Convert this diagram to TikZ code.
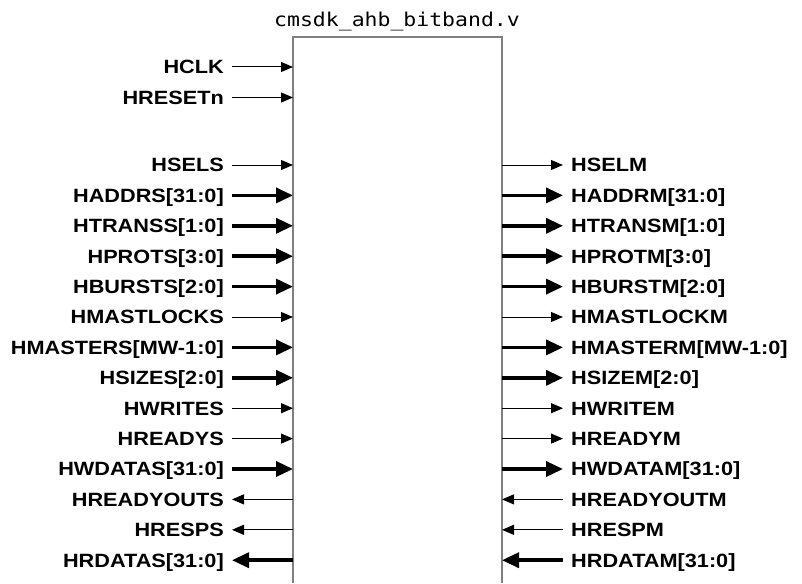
\documentclass[tikz,border=0pt]{standalone}
\usepackage{fontspec}
\setmainfont{Liberation Sans}
\newfontfamily\sigfont[FakeStretch=1.13]{Liberation Sans}
\newfontfamily\titlefont[FakeStretch=1.13]{DejaVu Sans Mono}
\usetikzlibrary{arrows.meta}

\tikzset{
  lbl/.style={font=\sigfont\bfseries\fontsize{19.2}{22}\selectfont,
    inner xsep=8pt, inner ysep=0pt, text height=13.7pt, text depth=0pt},
  sig/.style={line width=1pt, -{Triangle[length=12pt,width=10pt]}},
  bus/.style={line width=3.5pt, -{Triangle[length=17pt,width=15pt]}},
}

\begin{document}
\begin{tikzpicture}[x=1pt, y=-1pt]
    \useasboundingbox (0,0) rectangle (802,583);
    % block outline, open at the bottom
    \coordinate (tl) at (293,37);
    \coordinate (tr) at (502,37);
    \coordinate (bl) at (293,583);
    \coordinate (br) at (502,583);
    \draw [gray, line width=1.5pt] (bl) -- (tl) -- (tr) -- (br);
    \node [font=\titlefont\fontsize{19}{22}\selectfont, anchor=base] (title) at (397,27) {cmsdk\_ahb\_bitband.v};

    % slave side inputs
    \foreach \txt/\y/\st [count=\i] in {HCLK/67/sig, HRESETn/97.5/sig, HSELS/165/sig,
        HADDRS[31:0]/195.4/bus, HTRANSS[1:0]/225.8/bus, HPROTS[3:0]/256.2/bus,
        HBURSTS[2:0]/286.6/bus, HMASTLOCKS/317/sig, HMASTERS[MW-1:0]/347.4/bus,
        HSIZES[2:0]/377.8/bus, HWRITES/408.2/sig, HREADYS/438.6/sig, HWDATAS[31:0]/469/bus} {
        \node [lbl, anchor=east] (si\i) at (232,\y) {\txt};
        \coordinate (pi\i) at (293,\y);
        \draw [\st] (si\i) -- (pi\i);
    }
    % slave side outputs
    \foreach \txt/\y/\st [count=\i] in {HREADYOUTS/499.4/sig, HRESPS/529.8/sig, HRDATAS[31:0]/560.2/bus} {
        \node [lbl, anchor=east] (so\i) at (232,\y) {\txt};
        \coordinate (po\i) at (293,\y);
        \draw [\st] (po\i) -- (so\i);
    }
    % master side outputs
    \foreach \txt/\y/\st [count=\i] in {HSELM/165/sig,
        HADDRM[31:0]/195.4/bus, HTRANSM[1:0]/225.8/bus, HPROTM[3:0]/256.2/bus,
        HBURSTM[2:0]/286.6/bus, HMASTLOCKM/317/sig, HMASTERM[MW-1:0]/347.4/bus,
        HSIZEM[2:0]/377.8/bus, HWRITEM/408.2/sig, HREADYM/438.6/sig, HWDATAM[31:0]/469/bus} {
        \node [lbl, anchor=west] (mo\i) at (563,\y) {\txt};
        \coordinate (qo\i) at (502,\y);
        \draw [\st] (qo\i) -- (mo\i);
    }
    % master side inputs
    \foreach \txt/\y/\st [count=\i] in {HREADYOUTM/499.4/sig, HRESPM/529.8/sig, HRDATAM[31:0]/560.2/bus} {
        \node [lbl, anchor=west] (mi\i) at (563,\y) {\txt};
        \coordinate (qi\i) at (502,\y);
        \draw [\st] (mi\i) -- (qi\i);
    }
\end{tikzpicture}
\end{document}
